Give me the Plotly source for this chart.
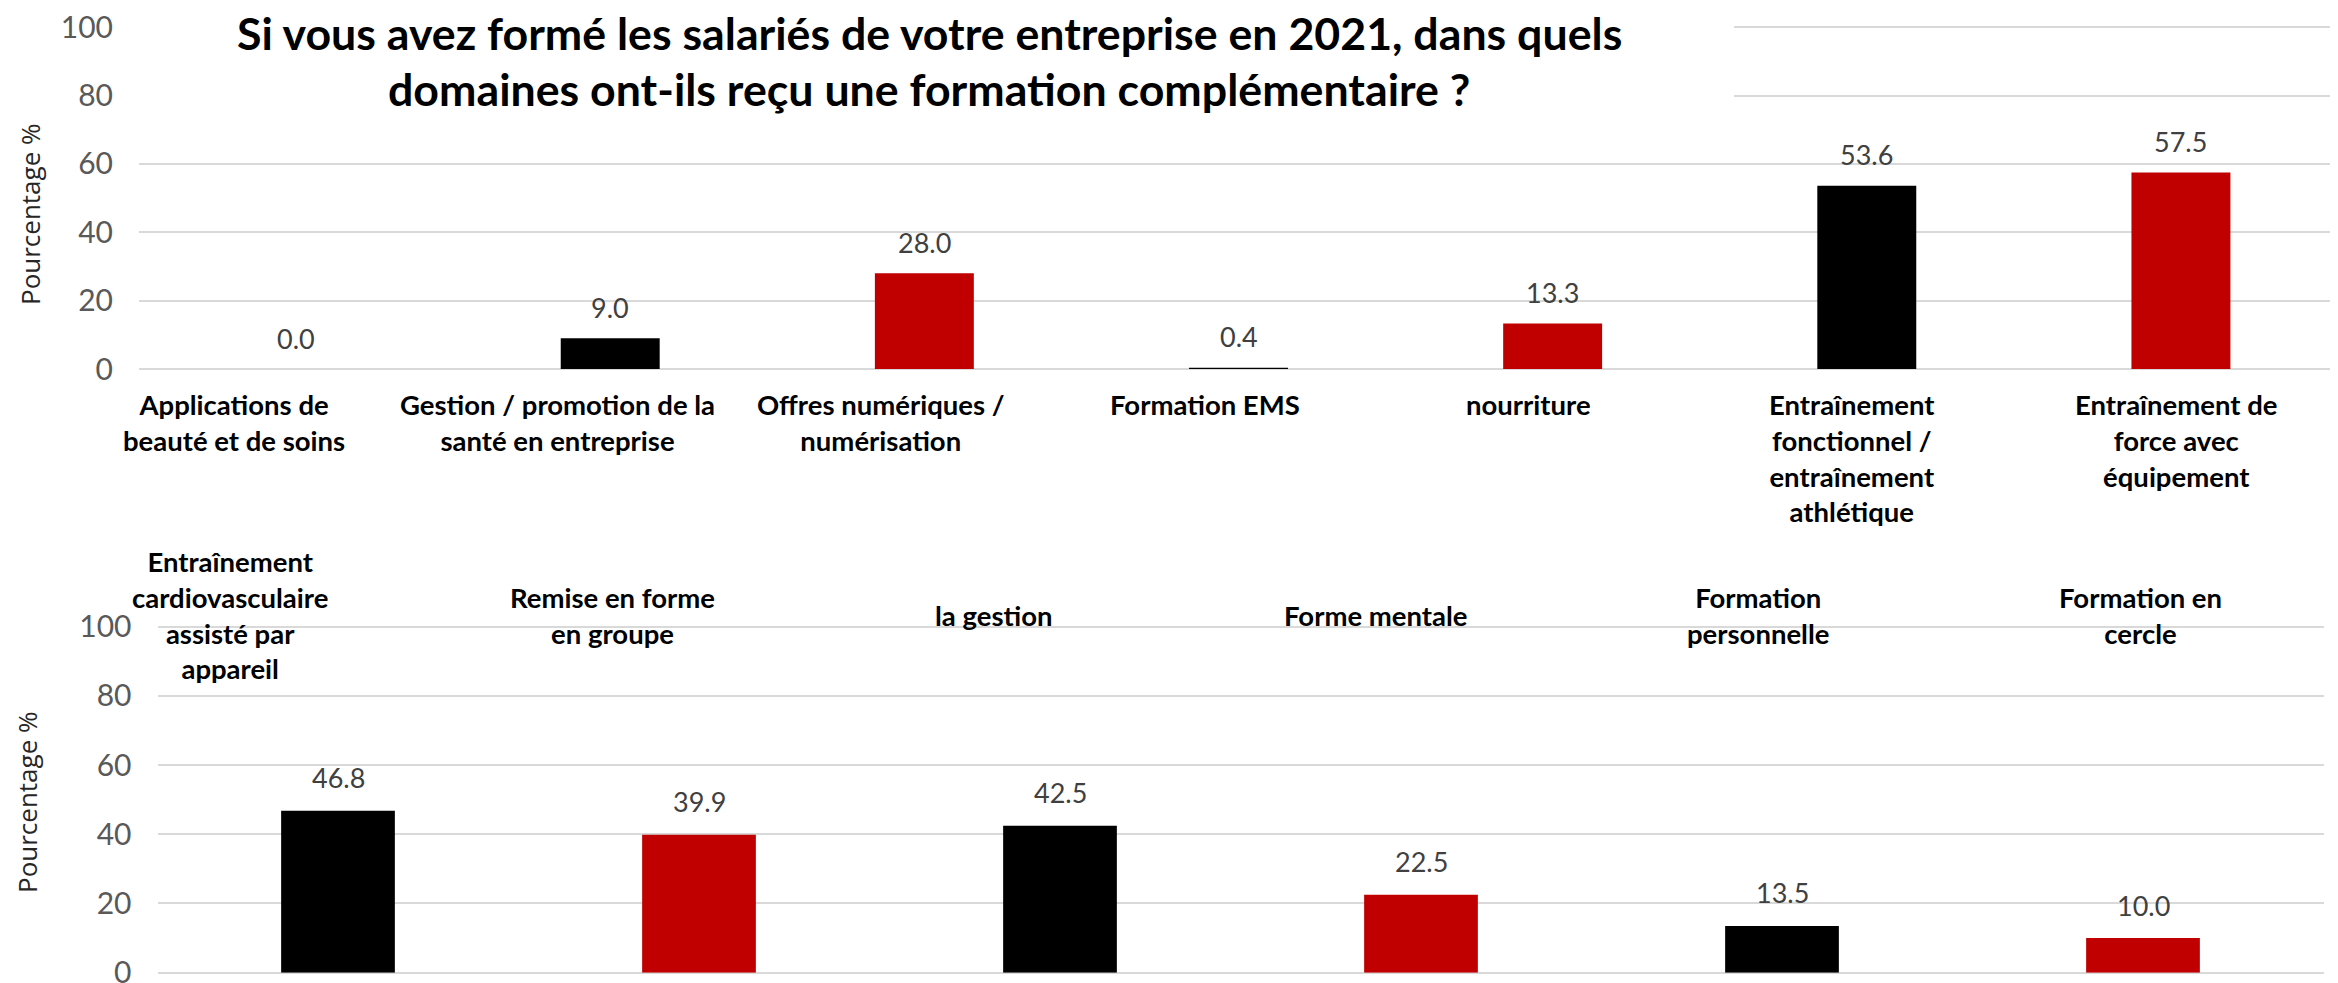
import plotly.graph_objects as go

# top chart
top_labels = [
    "Applications de<br>beauté et de soins",
    "Gestion / promotion de la<br>santé en entreprise",
    "Offres numériques /<br>numérisation",
    "Formation EMS",
    "nourriture",
    "Entraînement<br>fonctionnel /<br>entraînement<br>athlétique",
    "Entraînement de<br>force avec<br>équipement",
]
top_values = [0.0, 9.0, 28.0, 0.4, 13.3, 53.6, 57.5]

# bottom chart
bottom_labels = [
    "Entraînement<br>cardiovasculaire<br>assisté par<br>appareil",
    "Remise en forme<br>en groupe",
    "la gestion",
    "Forme mentale",
    "Formation<br>personnelle",
    "Formation en<br>cercle",
]
bottom_values = [46.8, 39.9, 42.5, 22.5, 13.5, 10.0]

RED = '#C00000'
BLACK = '#000000'
top_colors = [RED, BLACK, RED, BLACK, RED, BLACK, RED]
bottom_colors = [BLACK, RED, BLACK, RED, BLACK, RED]

W, H = 2338, 983
OFF = 8  # page body margin, the figure is drawn 8px in from the corner
title_lines = ["Si vous avez formé les salariés de votre entreprise en 2021, dans quels",
               "domaines ont-ils reçu une formation complémentaire ?"]


def px(x):
    return (x - OFF) / W


def py(y):
    return 1 - (y - OFF) / H


def slot_center(i, n, d0, d1):
    # centre of the i-th of n equal slots spread over [d0, d1] (paper units)
    return d0 + (i + 0.5) * (d1 - d0) / n


fig = go.Figure()
fig.add_trace(go.Bar(x=list(range(len(top_values))), y=top_values,
                     marker=dict(color=top_colors, line=dict(width=0)),
                     xaxis='x', yaxis='y', showlegend=False))
fig.add_trace(go.Bar(x=list(range(len(bottom_values))), y=bottom_values,
                     marker=dict(color=bottom_colors, line=dict(width=0)),
                     xaxis='x2', yaxis='y2', showlegend=False))

annotations = []
label_font = dict(family='Lato', size=27, color='#404040')
for i, v in enumerate(top_values):
    annotations.append(dict(x=i, y=v, xref='x', yref='y', text=f"{v:.1f}",
                            showarrow=False, yanchor='middle', yshift=31, font=label_font))
for i, v in enumerate(bottom_values):
    annotations.append(dict(x=i, y=v, xref='x2', yref='y2', text=f"{v:.1f}",
                            showarrow=False, yanchor='middle', yshift=33, font=label_font))

# category labels sit on a slightly wider grid than the bars, as in the original
cat_font = dict(family='Lato', size=27.5, color='black', weight='bold')
for i, lab in enumerate(top_labels):
    annotations.append(dict(x=slot_center(i, len(top_labels), px(72), px(2338)), y=py(386),
                            xref='paper', yref='paper', text=lab, showarrow=False,
                            xanchor='center', yanchor='top', font=cat_font))
for i, lab in enumerate(bottom_labels):
    annotations.append(dict(x=slot_center(i, len(bottom_labels), px(39), px(2331)), y=py(615),
                            xref='paper', yref='paper', text=lab, showarrow=False,
                            xanchor='center', yanchor='middle', font=cat_font))

ytitle_font = dict(family='Open Sans', size=26, color='#262626')
annotations.append(dict(x=px(30), y=py(214), xref='paper', yref='paper',
                        text='Pourcentage %', textangle=-90, showarrow=False,
                        xanchor='center', yanchor='middle', font=ytitle_font))
annotations.append(dict(x=px(27), y=py(802), xref='paper', yref='paper',
                        text='Pourcentage %', textangle=-90, showarrow=False,
                        xanchor='center', yanchor='middle', font=ytitle_font))

title_font = dict(family='Lato', size=44.7, color='black', weight='bold')
for line, ypos in zip(title_lines, [33, 89]):
    annotations.append(dict(x=px(929), y=py(ypos), xref='paper', yref='paper',
                            text=line, showarrow=False, xanchor='center', yanchor='middle',
                            font=title_font))

# range runs one unit past 100 so the top gridline is not clipped away
yaxis_style = dict(range=[0, 101], tickvals=[0, 20, 40, 60, 80, 100],
                   showgrid=True, gridcolor='#D9D9D9', gridwidth=2,
                   zeroline=True, zerolinecolor='#D9D9D9', zerolinewidth=2,
                   showline=False, ticks='', ticklabelstandoff=25, automargin=False,
                   ticklabeloverflow='allow',
                   tickfont=dict(family='Lato', size=30, color='#595959'))
hidden_x = dict(showgrid=False, zeroline=False, showline=False, ticks='',
                showticklabels=False, automargin=False)

fig.update_layout(
    width=W, height=H, autosize=False,
    margin=dict(l=0, r=0, t=0, b=0),
    paper_bgcolor='white', plot_bgcolor='white',
    bargap=0.685,
    xaxis=dict(domain=[px(139), px(2338)], anchor='y', range=[-0.5, 6.5], **hidden_x),
    yaxis=dict(domain=[py(369), py(23.9)], anchor='x', **yaxis_style),
    xaxis2=dict(domain=[px(157.5), px(2323.5)], anchor='y2', range=[-0.5, 5.5], **hidden_x),
    yaxis2=dict(domain=[py(972.7), py(623.2)], anchor='x2', **yaxis_style),
    shapes=[dict(type='rect', xref='paper', yref='paper', x0=px(135), x1=px(1734),
                 y0=py(135), y1=1, fillcolor='white', line=dict(width=0), layer='above')],
    annotations=annotations,
)

fig.write_html("out.html")
